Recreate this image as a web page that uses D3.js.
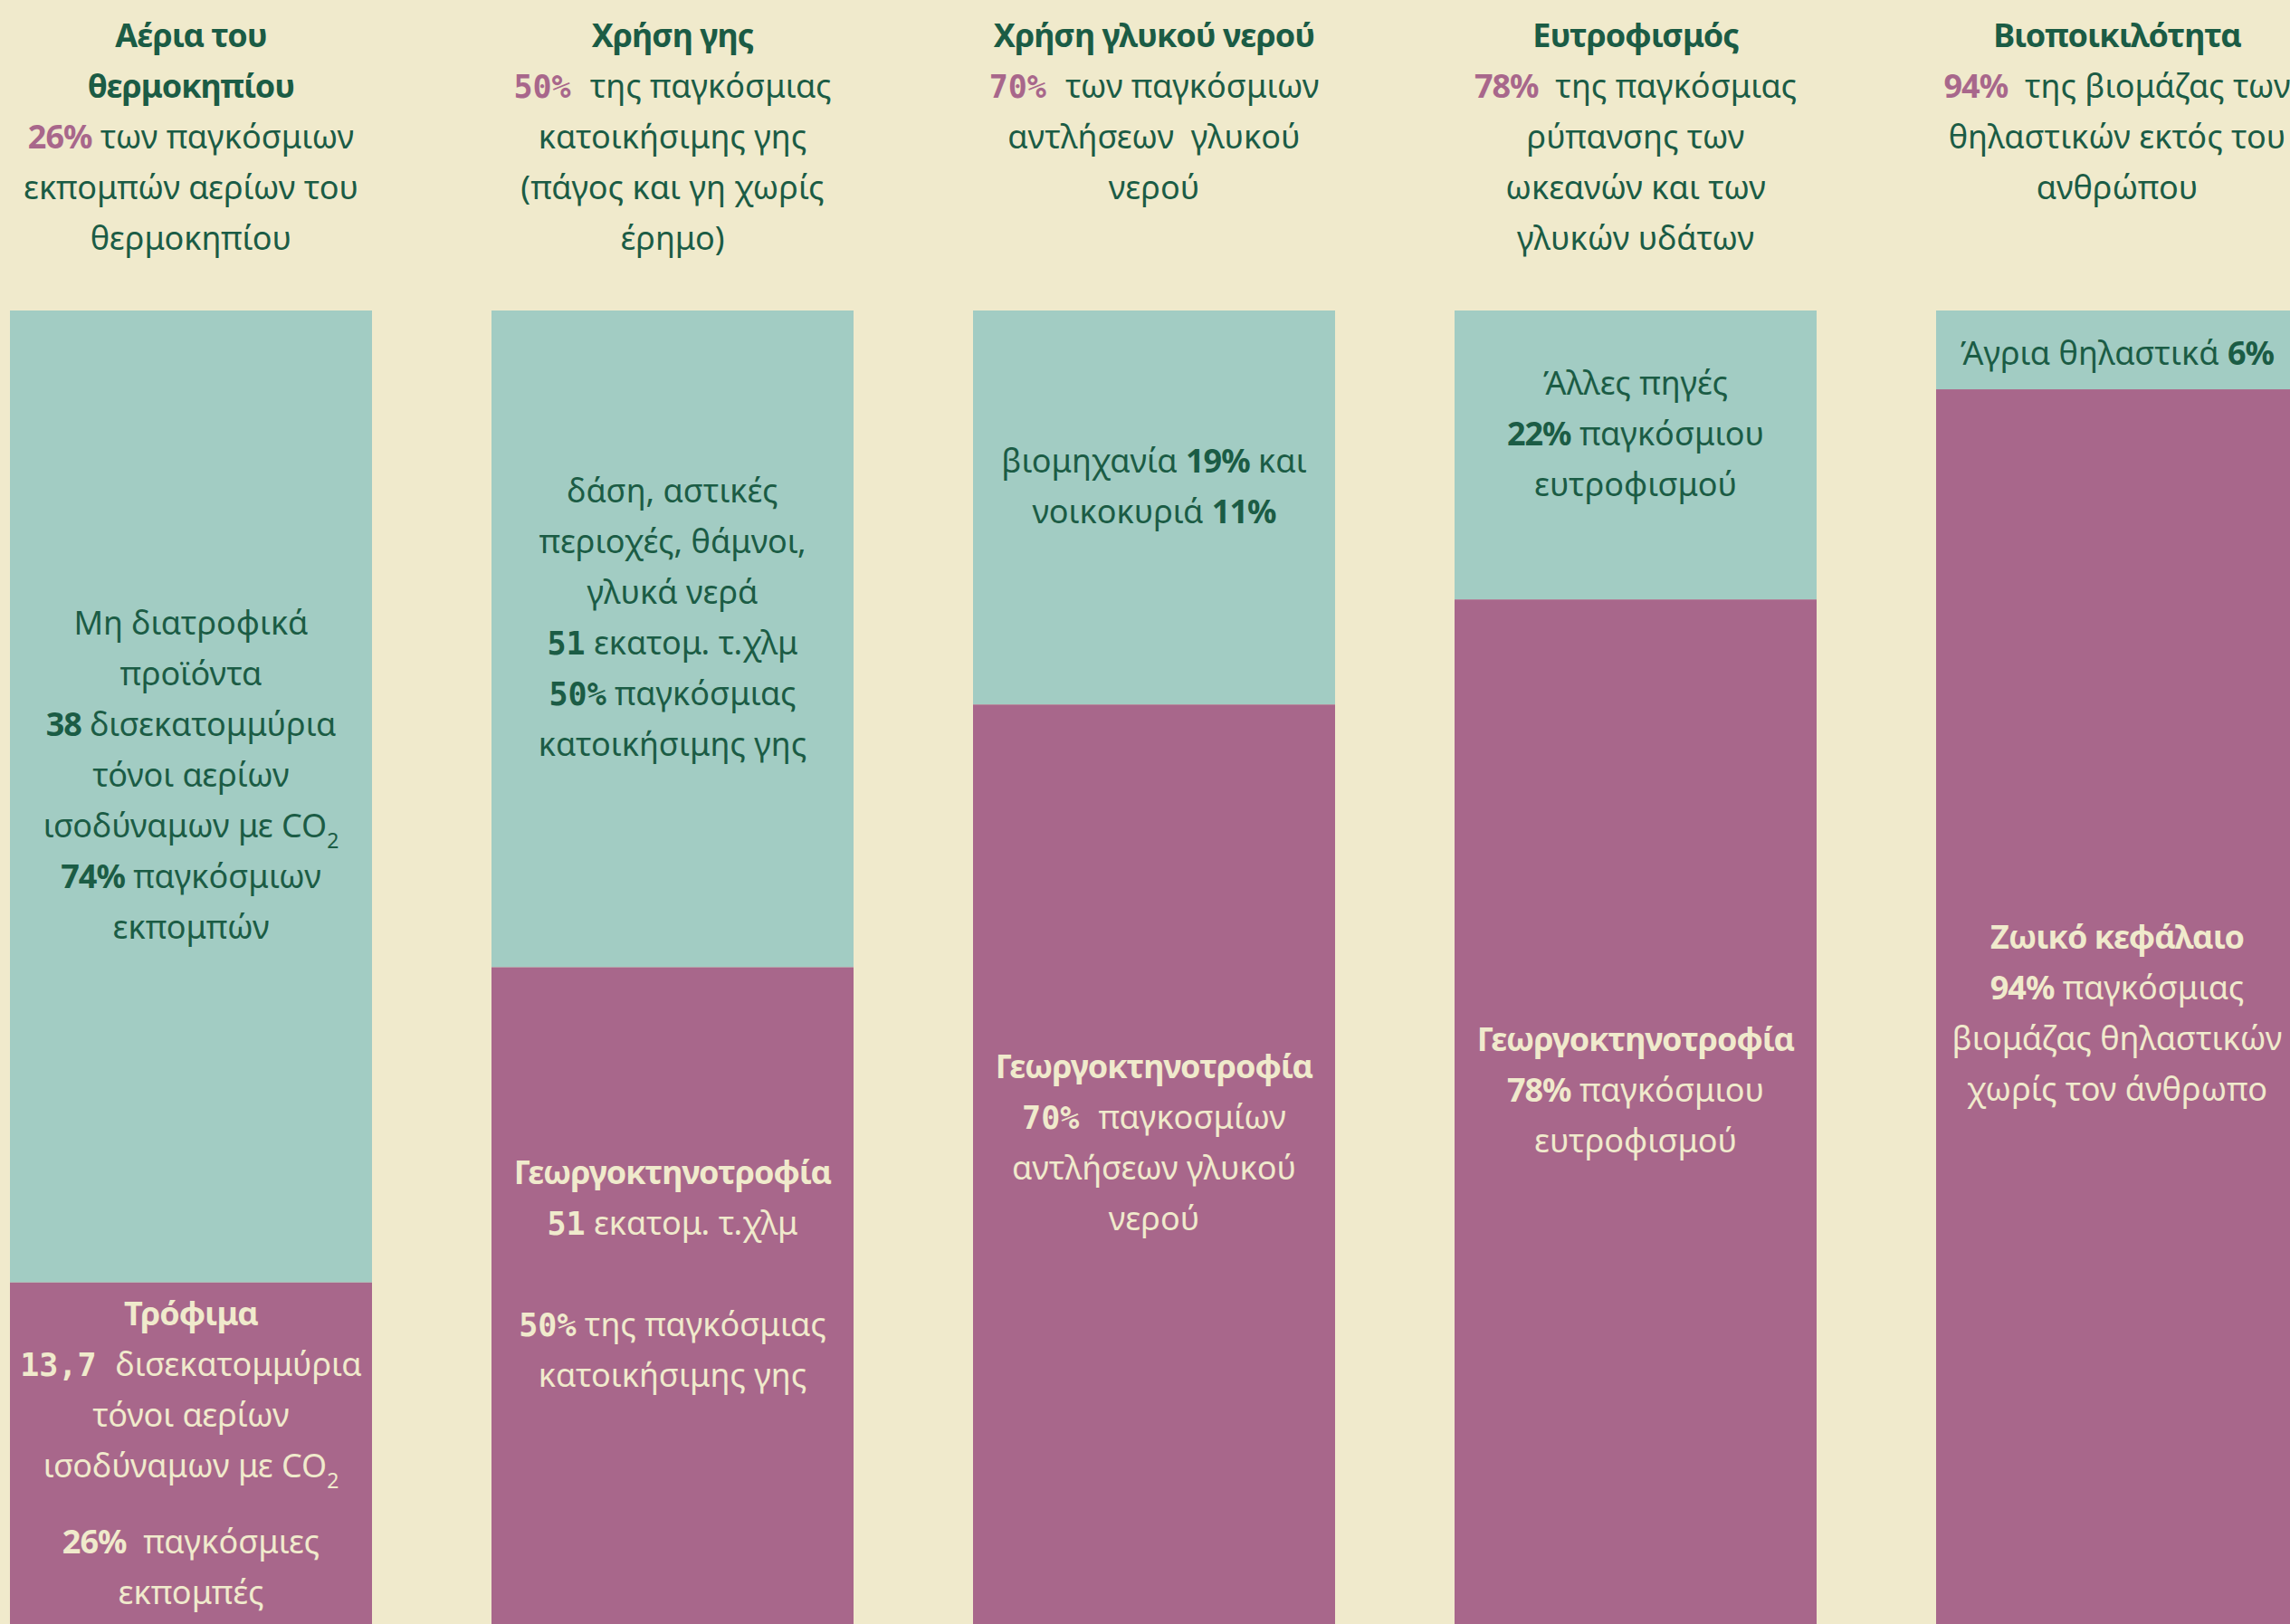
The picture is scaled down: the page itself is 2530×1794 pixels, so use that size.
<!DOCTYPE html>
<html>
<head>
<meta charset="utf-8">
<script src="https://cdn.jsdelivr.net/npm/d3@7"></script>
<style>
  html, body { margin: 0; padding: 0; background: #f0eacc; overflow: hidden; }
  svg { display: block; }
  text { white-space: pre; }
</style>
</head>
<body>
<script>
// ---- data ---------------------------------------------------------------
const categories = ["Αέρια του θερμοκηπίου", "Χρήση γης", "Χρήση γλυκού νερού", "Ευτροφισμός", "Βιοποικιλότητα"];

// share of each pressure (%): non-agricultural part on top, agriculture below
const otherShare       = [74, 50, 30, 22, 6];
const agricultureShare = [26, 50, 70, 78, 94];

// column headings (title lines in bold, then a note; **bold** / `mono` marks the highlighted figure)
const headerTitles = [
  ["Αέρια του", "θερμοκηπίου"],
  ["Χρήση γης"],
  ["Χρήση γλυκού νερού"],
  ["Ευτροφισμός"],
  ["Βιοποικιλότητα"]
];
const headerNotes = [
  ["**26%** των παγκόσμιων", "εκπομπών αερίων του", "θερμοκηπίου"],
  ["`50% `της παγκόσμιας", "κατοικήσιμης γης", "(πάγος και γη χωρίς", "έρημο)"],
  ["`70% `των παγκόσμιων", "αντλήσεων  γλυκού", "νερού"],
  ["**78%**  της παγκόσμιας", "ρύπανσης των", "ωκεανών και των", "γλυκών υδάτων"],
  ["**94%**  της βιομάζας των", "θηλαστικών εκτός του", "ανθρώπου"]
];

// labels inside the segments (~x~ = subscript, "" = spacer line)
const otherLabels = [
  ["Μη διατροφικά", "προϊόντα", "**38** δισεκατομμύρια", "τόνοι αερίων", "ισοδύναμων με CO~2~", "**74%** παγκόσμιων", "εκπομπών"],
  ["δάση, αστικές", "περιοχές, θάμνοι,", "γλυκά νερά", "`51` εκατομ. τ.χλμ", "`50%` παγκόσμιας", "κατοικήσιμης γης"],
  ["βιομηχανία **19%** και", "νοικοκυριά **11%**"],
  ["Άλλες πηγές", "**22%** παγκόσμιου", "ευτροφισμού"],
  ["Άγρια θηλαστικά **6%**"]
];
const agricultureLabels = [
  ["**Τρόφιμα**", "`13,7 `δισεκατομμύρια", "τόνοι αερίων", "ισοδύναμων με CO~2~", "", "**26%**  παγκόσμιες", "εκπομπές"],
  ["**Γεωργοκτηνοτροφία**", "`51` εκατομ. τ.χλμ", "", "`50%` της παγκόσμιας", "κατοικήσιμης γης"],
  ["**Γεωργοκτηνοτροφία**", "`70% `παγκοσμίων", "αντλήσεων γλυκού", "νερού"],
  ["**Γεωργοκτηνοτροφία**", "**78%** παγκόσμιου", "ευτροφισμού"],
  ["**Ζωικό κεφάλαιο**", "**94%** παγκόσμιας", "βιομάζας θηλαστικών", "χωρίς τον άνθρωπο"]
];

// ---- layout & style -----------------------------------------------------
const W = 2530, H = 1794;
const barTop = 343;
const lineH = 56;
const fontSize = 36;
const boldSpacing = -1;
const sans = "'Noto Sans', 'Open Sans', sans-serif";
const mono = "'DejaVu Sans Mono', monospace";
const colors = {
  bg: "#f0eacc",
  other: "#a2ccc3",
  agri: "#a8678b",
  green: "#1b5c45",
  cream: "#f0eacc"
};
// vertical adjustments of the label blocks per column [top, bottom],
// and the height of a spacer line in the bottom blocks
const labelNudge = [[0, 24], [0, 0], [0, 0], [0, 0], [27, 31]];
const spacerH = [28, 56, 56, 56, 56];

const rows = categories.map((c, i) => ({ cat: c, other: otherShare[i], agri: agricultureShare[i] }));

const x = d3.scaleBand()
  .domain(categories)
  .range([11, 2539])
  .paddingInner(132 / 532)
  .paddingOuter(0);

const y = d3.scaleLinear().domain([0, 100]).range([barTop, H]);

const stack = d3.stack().keys(["other", "agri"]);
const series = stack(rows);

const svg = d3.select("body").append("svg")
  .attr("width", W).attr("height", H)
  .attr("viewBox", `0 0 ${W} ${H}`);

svg.append("rect").attr("width", W).attr("height", H).attr("fill", colors.bg);

// ---- bars ---------------------------------------------------------------
svg.append("g").selectAll("g")
  .data(series)
  .join("g")
  .attr("fill", d => colors[d.key])
  .selectAll("rect")
  .data(d => d)
  .join("rect")
  .attr("x", d => x(d.data.cat))
  .attr("y", d => y(d[0]))
  .attr("width", x.bandwidth())
  .attr("height", d => y(d[1]) - y(d[0]));

// ---- rich text helper ---------------------------------------------------
function parseRuns(str) {
  const parts = str.split(/(\*\*[^*]+\*\*|`[^`]+`|~[^~]+~)/).filter(s => s !== "");
  return parts.map(p => {
    if (p.startsWith("**")) return { t: p.slice(2, -2), bold: true };
    if (p.startsWith("`")) return { t: p.slice(1, -1), bold: true, mono: true };
    if (p.startsWith("~")) return { t: p.slice(1, -1), sub: true };
    return { t: p };
  });
}

function drawLine(g, str, cx, baseline, opts) {
  const txt = g.append("text")
    .attr("x", cx).attr("y", baseline)
    .attr("text-anchor", "middle")
    .attr("font-family", sans)
    .attr("font-size", fontSize)
    .attr("fill", opts.color)
    .attr("font-weight", opts.allBold ? 700 : 400)
    .attr("letter-spacing", opts.allBold ? boldSpacing : 0);
  let shifted = 0;
  parseRuns(str).forEach(r => {
    const ts = txt.append("tspan").text(r.t);
    if (shifted) { ts.attr("dy", -shifted); shifted = 0; }
    if (r.bold) {
      ts.attr("font-weight", 700);
      if (!r.mono) ts.attr("letter-spacing", boldSpacing);
      if (opts.accent) ts.attr("fill", opts.accent);
    }
    if (r.mono) ts.attr("font-family", mono).attr("font-size", fontSize - 1).attr("letter-spacing", 0);
    if (r.sub) { ts.attr("font-size", 23).attr("dy", 12); shifted = 12; }
  });
}

// ---- headers ------------------------------------------------------------
const headG = svg.append("g");
categories.forEach((c, i) => {
  const cx = x(c) + x.bandwidth() / 2;
  let baseline = 52;
  headerTitles[i].forEach(line => {
    drawLine(headG, line, cx, baseline, { color: colors.green, allBold: true });
    baseline += lineH;
  });
  headerNotes[i].forEach(line => {
    drawLine(headG, line, cx, baseline, { color: colors.green, accent: colors.agri });
    baseline += lineH;
  });
});

// ---- segment labels -----------------------------------------------------
const labG = svg.append("g");
function drawBlock(lines, cx, y0, y1, color, nudge, blank) {
  const gaps = lines.slice(1).map(l => (l === "" ? blank : lineH));
  const span = d3.sum(gaps);
  let baseline = (y0 + y1) / 2 - span / 2 - 11 + nudge;
  lines.forEach((line, k) => {
    if (line !== "") drawLine(labG, line, cx, baseline, { color });
    if (k < gaps.length) baseline += gaps[k];
  });
}

rows.forEach((r, i) => {
  const cx = x(r.cat) + x.bandwidth() / 2;
  const s0 = series[0][i], s1 = series[1][i];
  drawBlock(otherLabels[i], cx, y(s0[0]), y(s0[1]), colors.green, labelNudge[i][0], lineH);
  drawBlock(agricultureLabels[i], cx, y(s1[0]), y(s1[1]), colors.cream, labelNudge[i][1], spacerH[i]);
});
</script>
</body>
</html>
